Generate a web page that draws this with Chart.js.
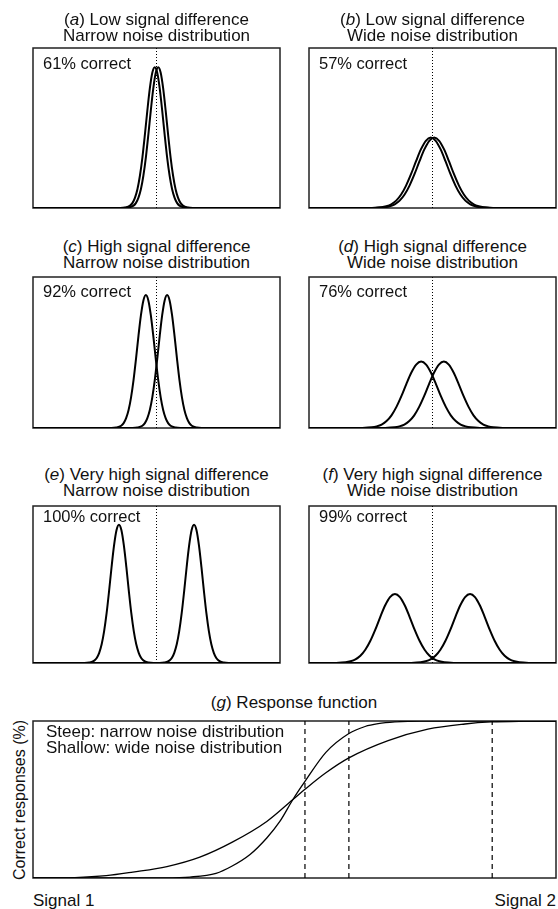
<!DOCTYPE html>
<html>
<head>
<meta charset="utf-8">
<script src="https://cdn.jsdelivr.net/npm/chart.js@4.4.1/dist/chart.umd.min.js"></script>
<style>
  body { margin: 0; background: #fff; width: 558px; height: 909px; position: relative; overflow: hidden;
         font-family: "Liberation Sans", Arial, sans-serif; color: #111; }
  canvas { position: absolute; }
  .title { position: absolute; text-align: center; font-size: 17px; line-height: 15.5px; white-space: nowrap; }
  .lab { position: absolute; font-size: 16.5px; line-height: 16px; white-space: nowrap; }
</style>
</head>
<body>
<script>
// ---- data ----
const panelLetters = ['a', 'b', 'c', 'd', 'e', 'f'];
const panelLine1 = ['Low signal difference', 'Low signal difference',
                    'High signal difference', 'High signal difference',
                    'Very high signal difference', 'Very high signal difference'];
const panelLine2 = ['Narrow noise distribution', 'Wide noise distribution',
                    'Narrow noise distribution', 'Wide noise distribution',
                    'Narrow noise distribution', 'Wide noise distribution'];
const panelCorrect = ['61% correct', '57% correct', '92% correct', '76% correct', '100% correct', '99% correct'];
const panelNoise = ['narrow', 'wide', 'narrow', 'wide', 'narrow', 'wide'];
// distance of each peak from the midline (x axis runs 0..100)
const panelHalfGap = [0.7, 0.7, 4.3, 4.6, 15.2, 15.2];
const criterionX = 50;

// half profiles of the noise distributions (offset from peak, height)
const narrowDx = [0, 1, 2, 3, 4, 5, 6, 7, 8, 9, 10, 12, 14];
const narrowY  = [88, 84.5, 74.7, 61, 45.8, 31.7, 20.3, 11.9, 6.5, 3.2, 1.5, 0.3, 0];
const wideDx   = [0, 2, 4, 6, 8, 10, 12, 14, 16, 18, 20, 24, 28];
const wideY    = [44, 42, 36.6, 29.1, 21.1, 14, 8.4, 4.6, 2.3, 1.1, 0.45, 0.06, 0];

// (g) response functions
const steepX   = [0, 25, 30, 35, 38, 41.5, 44.7, 47.2, 49.7, 52, 56, 60.4, 63.5, 66, 69.2, 74, 80, 100];
const steepY   = [0, 0.1, 0.6, 3, 7.5, 15, 25.5, 36, 50, 61.5, 80, 92, 96.5, 98.3, 99.4, 100, 100, 100];
const shallowX = [0, 8, 14, 19.1, 25.6, 31.9, 38.2, 44.7, 49.7, 52, 56, 60.4, 67.9, 75.5, 82.6, 87.6, 94, 100];
const shallowY = [0, 0.3, 1.5, 3.8, 7.3, 13.3, 23, 36, 50, 56.5, 67, 76.5, 87.5, 94.8, 98.1, 99.4, 99.9, 100];
const signalMarks = [52, 60.4, 87.8];

// ---- layout ----
const cols = [{ left: 33, right: 280 }, { left: 309, right: 556 }];
const rows = [
  { top: 48,  bottom: 208, title: 12,  label: 55 },
  { top: 277, bottom: 428, title: 239, label: 283 },
  { top: 506, bottom: 663, title: 467, label: 508 }
];
const PAD = 4;

Chart.defaults.font.family = '"Liberation Sans", Arial, sans-serif';
Chart.defaults.animation = false;

const boxBorder = {
  id: 'boxBorder',
  beforeDatasetsDraw(chart) {
    const { ctx, chartArea: a } = chart;
    ctx.save();
    ctx.strokeStyle = '#222';
    ctx.lineWidth = 1.5;
    ctx.strokeRect(a.left, a.top, a.right - a.left, a.bottom - a.top);
    ctx.restore();
  }
};

function addDiv(cls, html, style) {
  const d = document.createElement('div');
  d.className = cls;
  d.innerHTML = html;
  Object.assign(d.style, style);
  document.body.appendChild(d);
  return d;
}

function makeChart(box, datasets) {
  const c = document.createElement('canvas');
  const w = box.right - box.left + 2 * PAD;
  const h = box.bottom - box.top + 2 * PAD;
  c.width = w; c.height = h;
  c.style.left = (box.left - PAD) + 'px';
  c.style.top = (box.top - PAD) + 'px';
  c.style.width = w + 'px';
  c.style.height = h + 'px';
  document.body.appendChild(c);
  return new Chart(c, {
    type: 'line',
    data: { datasets },
    options: {
      responsive: false,
      devicePixelRatio: 1,
      layout: { padding: PAD },
      plugins: { legend: { display: false }, tooltip: { enabled: false } },
      elements: { point: { radius: 0 }, line: { cubicInterpolationMode: 'monotone' } },
      scales: {
        x: { type: 'linear', min: 0, max: 100, display: false },
        y: { type: 'linear', min: 0, max: 100, display: false }
      }
    },
    plugins: [boxBorder]
  });
}

function curve(mean, dx, dy) {
  const pts = [{ x: 0, y: 0 }];
  for (let i = dx.length - 1; i > 0; i--) pts.push({ x: mean - dx[i], y: dy[i] });
  for (let i = 0; i < dx.length; i++) pts.push({ x: mean + dx[i], y: dy[i] });
  pts.push({ x: 100, y: 0 });
  return pts.filter(p => p.x >= 0 && p.x <= 100);
}

// ---- panels a-f ----
panelLetters.forEach((letter, i) => {
  const col = cols[i % 2], row = rows[Math.floor(i / 2)];
  const box = { left: col.left, right: col.right, top: row.top, bottom: row.bottom };
  const dx = panelNoise[i] === 'narrow' ? narrowDx : wideDx;
  const dy = panelNoise[i] === 'narrow' ? narrowY : wideY;
  const lineStyle = { borderColor: '#000', borderWidth: 2, fill: false };
  makeChart(box, [
    { data: [{ x: criterionX, y: 0 }, { x: criterionX, y: 100 }], borderColor: '#000',
      borderWidth: 1, borderDash: [1, 2], cubicInterpolationMode: 'default', tension: 0 },
    Object.assign({ data: curve(criterionX - panelHalfGap[i], dx, dy) }, lineStyle),
    Object.assign({ data: curve(criterionX + panelHalfGap[i], dx, dy) }, lineStyle)
  ]);
  const cx = (col.left + col.right) / 2;
  addDiv('title', '(<i>' + letter + '</i>) ' + panelLine1[i] + '<br>' + panelLine2[i],
         { left: (cx - 150) + 'px', width: '300px', top: row.title + 'px' });
  addDiv('lab', panelCorrect[i], { left: (col.left + 10) + 'px', top: row.label + 'px' });
});

// ---- panel g ----
const gBox = { left: 33, right: 556, top: 721, bottom: 878 };
const gSets = signalMarks.map(x => ({
  data: [{ x, y: 0 }, { x, y: 100 }], borderColor: '#000', borderWidth: 1.2,
  borderDash: [5, 4], cubicInterpolationMode: 'default', tension: 0
}));
gSets.push({ data: steepX.map((x, k) => ({ x, y: steepY[k] })), borderColor: '#000', borderWidth: 1.3 });
gSets.push({ data: shallowX.map((x, k) => ({ x, y: shallowY[k] })), borderColor: '#000', borderWidth: 1.3 });
makeChart(gBox, gSets);

addDiv('title', '(<i>g</i>) Response function', { left: (294 - 150) + 'px', width: '300px', top: '695px' });
addDiv('lab', 'Steep: narrow noise distribution<br>Shallow: wide noise distribution',
       { left: '46px', top: '724px', lineHeight: '15.5px', fontSize: '17px' });
addDiv('lab', 'Correct responses (%)',
       { left: '-80px', width: '200px', textAlign: 'center', top: '792px', transform: 'rotate(-90deg)', fontSize: '16px' });
addDiv('lab', 'Signal 1', { left: '33px', top: '893px', fontSize: '17px' });
addDiv('lab', 'Signal 2', { right: '2px', top: '893px', fontSize: '17px' });
</script>
</body>
</html>
